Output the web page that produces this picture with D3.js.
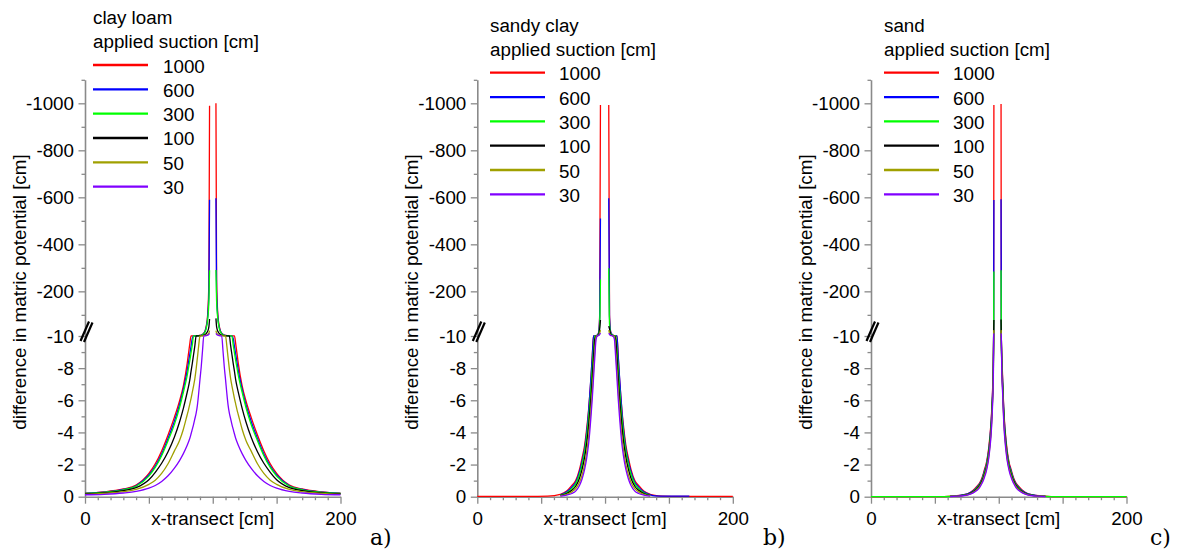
<!DOCTYPE html>
<html><head><meta charset="utf-8">
<script src="https://cdn.jsdelivr.net/npm/d3@7"></script>
<style>body{margin:0;background:#fff}svg{display:block}</style>
</head><body><svg id="c" width="1184" height="550"></svg>
<script>
// ---------- labels ----------
const suctions = ["1000","600","300","100","50","30"];
const colors = ["#ff0000","#0000ff","#00ff00","#000000","#a0a000","#8000ff"];
const panelTitles = ["clay loam","sandy clay","sand"];
const panelLetters = ["a)","b)","c)"];
const legendSub = "applied suction [cm]";
const xLabel = "x-transect [cm]";
const yLabel = "difference in matric potential [cm]";
const yTicksLower = [0,-2,-4,-6,-8,-10];
const yTicksUpper = [-200,-400,-600,-800,-1000];
const yMinorLower = [-1,-3,-5,-7,-9];
const yMinorUpper = [-100,-300,-500,-700,-900,-1100];
const xMajor = [0,50,100,150,200];
const xMinor = [10,20,30,40,60,70,80,90,110,120,130,140,160,170,180,190];
const xTickLabels = [0,200];

// ---------- panel a: clay loam ----------
const xA = [0,15,30,40,50,55,60,65,70,74,77,80,81,82,83,84,85,86,87,88,89,90,91,92,93,94,95,96,97,97.5, 100,
  102.5,103,104,105,106,107,108,109,110,111,112,113,114,115,116,117,118,119,120,123,126,130,135,140,145,150,160,170,185,200];
const a1000 = [-0.22,-0.3,-0.48,-0.72,-1.45,-2.05,-2.85,-3.84,-4.95,-5.96,-6.9,-8.3,-8.9,-9.5,-10,-10.3,-10.6,-10.9,-11.2,-11.6,-12,-12.5,-14,-17,-22,-32,-55,-100,-250,-990, null,
  -1000,-250,-100,-55,-32,-22,-17,-14,-12.5,-12,-11.6,-11.2,-10.9,-10.6,-10.3,-10,-9.5,-8.9,-8.3,-6.9,-5.96,-4.95,-3.84,-2.85,-2.05,-1.45,-0.72,-0.48,-0.3,-0.22];
const a600 = [-0.21,-0.28,-0.45,-0.68,-1.35,-1.9,-2.65,-3.62,-4.7,-5.72,-6.7,-7.85,-8.35,-8.85,-9.35,-9.85,-10.2,-10.5,-10.8,-11.2,-11.6,-12.1,-13.4,-16,-21,-30,-50,-90,-200,-590, null,
  -596,-200,-90,-50,-30,-21,-16,-13.4,-12.1,-11.6,-11.2,-10.8,-10.5,-10.2,-9.85,-9.35,-8.85,-8.35,-7.85,-6.7,-5.72,-4.7,-3.62,-2.65,-1.9,-1.35,-0.68,-0.45,-0.28,-0.21];
const a300 = [-0.2,-0.27,-0.43,-0.65,-1.28,-1.82,-2.55,-3.48,-4.5,-5.55,-6.5,-7.55,-8.0,-8.45,-8.95,-9.45,-10,-10.3,-10.6,-10.9,-11.3,-11.8,-13,-15.5,-20,-28,-45,-80,-160,-290, null,
  -291,-160,-80,-45,-28,-20,-15.5,-13,-11.8,-11.3,-10.9,-10.6,-10.3,-10,-9.45,-8.95,-8.45,-8.0,-7.55,-6.5,-5.55,-4.5,-3.48,-2.55,-1.82,-1.28,-0.65,-0.43,-0.27,-0.2];
const a100 = [-0.18,-0.24,-0.38,-0.56,-1.05,-1.52,-2.08,-2.8,-3.72,-4.65,-5.5,-6.5,-6.85,-7.25,-7.8,-8.3,-8.85,-9.4,-10,-10.2,-10.4,-10.7,-11.2,-12,-13.5,-16,-21,-30,-50,-82, null,
  -85,-50,-30,-21,-16,-13.5,-12,-11.2,-10.7,-10.4,-10.2,-10,-9.4,-8.85,-8.3,-7.8,-7.25,-6.85,-6.5,-5.5,-4.65,-3.72,-2.8,-2.08,-1.52,-1.05,-0.56,-0.38,-0.24,-0.18];
const a50 = [-0.15,-0.2,-0.31,-0.45,-0.77,-1.03,-1.45,-2.05,-2.85,-3.5,-4.2,-5.1,-5.4,-5.75,-6.1,-6.5,-6.9,-7.35,-7.95,-8.65,-9.4,-10.1,-10.4,-10.8,-11.4,-12.3,-13.8,-16.5,-23,-32.5, null,
  -32.5,-23,-16.5,-13.8,-12.3,-11.4,-10.8,-10.4,-10.1,-9.4,-8.65,-7.95,-7.35,-6.9,-6.5,-6.1,-5.75,-5.4,-5.1,-4.2,-3.5,-2.85,-2.05,-1.45,-1.03,-0.77,-0.45,-0.31,-0.2,-0.15];
const a30 = [-0.12,-0.15,-0.23,-0.33,-0.53,-0.7,-0.95,-1.3,-1.78,-2.25,-2.68,-3.2,-3.4,-3.62,-3.9,-4.2,-4.5,-4.85,-5.2,-5.7,-6.45,-7.3,-8.1,-9.1,-10.1,-10.6,-11.5,-13.5,-17,-21, null,
  -21,-17,-13.5,-11.5,-10.6,-10.1,-9.1,-8.1,-7.3,-6.45,-5.7,-5.2,-4.85,-4.5,-4.2,-3.9,-3.62,-3.4,-3.2,-2.68,-2.25,-1.78,-1.3,-0.95,-0.7,-0.53,-0.33,-0.23,-0.15,-0.12];

// ---------- panel b: sandy clay ----------
const xB = [0,20,40,55,65,70,74,77,80,82,84,85,86,87,88,89,90,91,92,93,94,95,95.8,96.4, 99.6,
  102.9,103.5,104.5,106,107.3,108.3,109.3,110.3,111.3,112.3,113.3,114.3,115.3,116.3,118.3,120.3,123.3,126.3,130.3,135.3,139,145,159,166,179,200];
const b1000 = [-0.02,-0.02,-0.02,-0.04,-0.15,-0.35,-0.7,-1.0,-1.7,-2.4,-3.2,-3.8,-4.5,-5.3,-6.3,-7.4,-8.8,-10.1,-10.6,-11.5,-14,-25,-100,-993, null,
  -993,-100,-25,-14,-11.5,-10.6,-10.1,-8.8,-7.4,-6.3,-5.3,-4.5,-3.8,-3.2,-2.4,-1.7,-1.0,-0.7,-0.35,-0.15,-0.08,-0.04,-0.02,-0.02,-0.02,-0.02];
const b600 = [null,null,null,null,-0.12,-0.3,-0.6,-0.9,-1.55,-2.2,-3.0,-3.6,-4.3,-5.2,-6.3,-7.5,-8.7,-10,-10.5,-11.5,-14,-25,-90,-510, null,
  -596,-90,-25,-14,-11.5,-10.5,-10,-8.7,-7.5,-6.3,-5.2,-4.3,-3.6,-3.0,-2.2,-1.55,-0.9,-0.6,-0.3,-0.12,-0.05,-0.04,-0.03,-0.03,null,null];
const b300 = [null,null,null,null,-0.1,-0.25,-0.5,-0.8,-1.4,-2.0,-2.8,-3.35,-4.0,-4.8,-5.7,-6.8,-8.0,-9.2,-10.1,-10.8,-12.5,-20,-60,-250, null,
  -298,-60,-20,-12.5,-10.8,-10.1,-9.2,-8.0,-6.8,-5.7,-4.8,-4.0,-3.35,-2.8,-2.0,-1.4,-0.8,-0.5,-0.25,-0.1,null,null,null,null,null,null];
const b100 = [null,null,null,null,-0.08,-0.2,-0.4,-0.65,-1.15,-1.7,-2.45,-2.95,-3.55,-4.3,-5.2,-6.2,-7.4,-8.7,-9.8,-10.3,-11.5,-16,-40,-78, null,
  -52,-40,-16,-11.5,-10.3,-9.8,-8.7,-7.4,-6.2,-5.2,-4.3,-3.55,-2.95,-2.45,-1.7,-1.15,-0.65,-0.4,-0.2,-0.08,null,null,null,null,null,null];
const b50 = [null,null,null,null,-0.06,-0.15,-0.3,-0.5,-0.9,-1.35,-2.0,-2.45,-3.0,-3.65,-4.5,-5.5,-6.6,-7.9,-9.1,-10.1,-10.8,-13,-22,-35, null,
  -35,-22,-13,-10.8,-10.1,-9.1,-7.9,-6.6,-5.5,-4.5,-3.65,-3.0,-2.45,-2.0,-1.35,-0.9,-0.5,-0.3,-0.15,-0.06,null,null,null,null,null,null];
const b30 = [null,null,null,null,-0.04,-0.1,-0.2,-0.35,-0.7,-1.1,-1.7,-2.1,-2.6,-3.2,-4.0,-5.0,-6.1,-7.4,-8.7,-9.8,-10.4,-12,-17,-22, null,
  -22,-17,-12,-10.4,-9.8,-8.7,-7.4,-6.1,-5.0,-4.0,-3.2,-2.6,-2.1,-1.7,-1.1,-0.7,-0.35,-0.2,-0.1,-0.04,null,null,null,null,null,null];

// ---------- panel c: sand ----------
const xC = [0,20,40,55,62,67,72,76,80,83,85,87,88,89,90,91,92,93,94,94.5,95,95.5,95.8,96,96.2, 99,
  101.8,102,102.4,103,103.5,104,104.5,105.5,106.5,107.5,108.5,109.5,110.5,111.5,113.5,115.5,118.5,122.5,126.5,131.5,136.5,143,158,178,200];
const c1000 = [0,0,0,0,-0.03,-0.06,-0.12,-0.2,-0.4,-0.65,-0.85,-1.2,-1.45,-1.75,-2.0,-2.4,-2.95,-3.7,-4.7,-5.4,-6.3,-7.5,-8.7,-11,-993, null,
  -997,-11,-8.7,-7.5,-6.3,-5.4,-4.7,-3.7,-2.95,-2.4,-2.0,-1.75,-1.45,-1.2,-0.85,-0.65,-0.4,-0.2,-0.12,-0.06,-0.03,0,0,0,0];
const c600 = [null,null,null,null,-0.03,-0.05,-0.11,-0.19,-0.37,-0.6,-0.8,-1.12,-1.38,-1.65,-1.9,-2.3,-2.8,-3.55,-4.55,-5.25,-6.15,-7.3,-8.5,-10.8,-589, null,
  -592,-10.8,-8.5,-7.3,-6.15,-5.25,-4.55,-3.55,-2.8,-2.3,-1.9,-1.65,-1.38,-1.12,-0.8,-0.6,-0.37,-0.19,-0.11,-0.05,-0.03,null,null,null,null];
const c300 = [0,0,0,0,-0.02,-0.04,-0.09,-0.16,-0.33,-0.55,-0.75,-1.05,-1.3,-1.55,-1.8,-2.2,-2.7,-3.4,-4.4,-5.1,-6.0,-7.1,-8.3,-10.5,-284, null,
  -290,-10.5,-8.3,-7.1,-6.0,-5.1,-4.4,-3.4,-2.7,-2.2,-1.8,-1.55,-1.3,-1.05,-0.75,-0.55,-0.33,-0.16,-0.09,-0.04,-0.02,0,0,0,0];
const c100 = [null,null,null,null,-0.02,-0.04,-0.08,-0.15,-0.3,-0.5,-0.7,-1.0,-1.2,-1.45,-1.7,-2.05,-2.55,-3.25,-4.2,-4.9,-5.8,-6.9,-8.0,-10.3,-78, null,
  -80,-10.3,-8.0,-6.9,-5.8,-4.9,-4.2,-3.25,-2.55,-2.05,-1.7,-1.45,-1.2,-1.0,-0.7,-0.5,-0.3,-0.15,-0.08,-0.04,-0.02,null,null,null,null];
const c50 = [null,null,null,null,-0.02,-0.03,-0.07,-0.13,-0.27,-0.45,-0.63,-0.92,-1.1,-1.35,-1.6,-1.95,-2.4,-3.1,-4.0,-4.7,-5.6,-6.7,-7.8,-10.1,-35, null,
  -35,-10.1,-7.8,-6.7,-5.6,-4.7,-4.0,-3.1,-2.4,-1.95,-1.6,-1.35,-1.1,-0.92,-0.63,-0.45,-0.27,-0.13,-0.07,-0.03,-0.02,null,null,null,null];
const c30 = [null,null,null,null,-0.01,-0.03,-0.06,-0.12,-0.24,-0.4,-0.57,-0.85,-1.02,-1.25,-1.5,-1.85,-2.3,-2.95,-3.85,-4.5,-5.4,-6.5,-7.6,-10.0,-21, null,
  -21,-10.0,-7.6,-6.5,-5.4,-4.5,-3.85,-2.95,-2.3,-1.85,-1.5,-1.25,-1.02,-0.85,-0.57,-0.4,-0.24,-0.12,-0.06,-0.03,-0.01,null,null,null,null];

const panels = [
  {x: xA, series: [a1000,a600,a300,a100,a50,a30]},
  {x: xB, series: [b1000,b600,b300,b100,b50,b30]},
  {x: xC, series: [c1000,c600,c300,c100,c50,c30]}
];

// ---------- layout ----------
const FONT = '"Liberation Sans", Arial, Helvetica, sans-serif';
const FS = 18.8;
const panelX0 = [85, 477.3, 871];
const plotW = 255.5;
const legendPos = [
  {lx: 93, tx: 163, titleY: 24, subY: 47.5, row0: 65},
  {lx: 490, tx: 559, titleY: 32, subY: 56, row0: 72.7},
  {lx: 884, tx: 953, titleY: 32, subY: 56, row0: 72.7}
];
const letterX = [370, 763, 1150];

const y = d3.scaleLinear().domain([0, -10, -1100]).range([496.7, 336, 79.8]);
const svg = d3.select("#c");

panels.forEach((p, i) => {
  const x0 = panelX0[i];
  const x = d3.scaleLinear().domain([0, 200]).range([x0, x0 + plotW]);
  const g = svg.append("g");

  // y axis (major)
  const gy = g.append("g").attr("transform", `translate(${x0},0)`)
    .call(d3.axisLeft(y).tickValues(yTicksLower.concat(yTicksUpper))
      .tickFormat(d => String(d)).tickSize(6.5).tickSizeOuter(0).tickPadding(4.5));
  gy.attr("font-family", FONT).attr("font-size", FS);
  gy.select(".domain").attr("stroke", "#8a8a8a").attr("stroke-width", 1.6);
  gy.selectAll(".tick line").attr("stroke", "#8a8a8a").attr("stroke-width", 1.3);
  gy.selectAll(".tick text").attr("fill", "#000");
  // y minor
  const gym = g.append("g").attr("transform", `translate(${x0},0)`)
    .call(d3.axisLeft(y).tickValues(yMinorLower.concat(yMinorUpper)).tickFormat("").tickSize(3.5).tickSizeOuter(0));
  gym.select(".domain").remove();
  gym.selectAll(".tick line").attr("stroke", "#8a8a8a").attr("stroke-width", 1.3);

  // x axis
  const gx = g.append("g").attr("transform", `translate(0,${y(0)})`)
    .call(d3.axisBottom(x).tickValues(xMajor)
      .tickFormat(d => xTickLabels.includes(d) ? String(d) : "").tickSize(7).tickSizeOuter(0).tickPadding(8));
  gx.attr("font-family", FONT).attr("font-size", FS);
  gx.select(".domain").attr("stroke", "#8a8a8a").attr("stroke-width", 1.6);
  gx.selectAll(".tick line").attr("stroke", "#8a8a8a").attr("stroke-width", 1.3);
  gx.selectAll(".tick text").attr("fill", "#000");
  const gxm = g.append("g").attr("transform", `translate(0,${y(0)})`)
    .call(d3.axisBottom(x).tickValues(xMinor).tickFormat("").tickSize(3.5).tickSizeOuter(0));
  gxm.select(".domain").remove();
  gxm.selectAll(".tick line").attr("stroke", "#8a8a8a").attr("stroke-width", 1.3);

  // axis break mark
  const yb = y(-10);
  [[-4.5, 5, 4, -14.5], [-1, 6, 7.5, -13.5]].forEach(([ax, ay, bx, by]) => {
    g.append("line").attr("x1", x0 + ax).attr("y1", yb + ay).attr("x2", x0 + bx).attr("y2", yb + by)
      .attr("stroke", "#000").attr("stroke-width", 2.2);
  });

  // curves
  const line = d3.line().defined(d => d[1] != null).curve(d3.curveMonotoneX)
    .x(d => x(d[0])).y(d => y(d[1]));
  p.series.forEach((vals, k) => {
    const pts = p.x.map((xv, j) => [xv, vals[j]]);
    g.append("path").attr("d", line(pts)).attr("fill", "none")
      .attr("stroke", colors[k]).attr("stroke-width", 1.3).attr("stroke-linejoin", "round");
  });

  // labels
  g.append("text").attr("x", x0 + plotW / 2).attr("y", 525).attr("text-anchor", "middle")
    .attr("font-family", FONT).attr("font-size", FS).text(xLabel);
  g.append("text").attr("transform", `translate(${x0 - 59},292) rotate(-90)`).attr("text-anchor", "middle")
    .attr("font-family", FONT).attr("font-size", FS).text(yLabel);
  g.append("text").attr("x", letterX[i]).attr("y", 545).attr("font-family", '"DejaVu Serif", serif')
    .attr("font-size", 22).text(panelLetters[i]);

  // legend
  const L = legendPos[i];
  g.append("text").attr("x", L.lx).attr("y", L.titleY).attr("font-family", FONT).attr("font-size", FS).text(panelTitles[i]);
  g.append("text").attr("x", L.lx).attr("y", L.subY).attr("font-family", FONT).attr("font-size", FS).text(legendSub);
  suctions.forEach((s, k) => {
    const ly = L.row0 + k * 24.33;
    g.append("line").attr("x1", L.lx).attr("x2", L.lx + 55).attr("y1", ly).attr("y2", ly)
      .attr("stroke", colors[k]).attr("stroke-width", 2.3);
    g.append("text").attr("x", L.tx).attr("y", ly + 7.5).attr("font-family", FONT).attr("font-size", FS).text(s);
  });
});
</script></body></html>
